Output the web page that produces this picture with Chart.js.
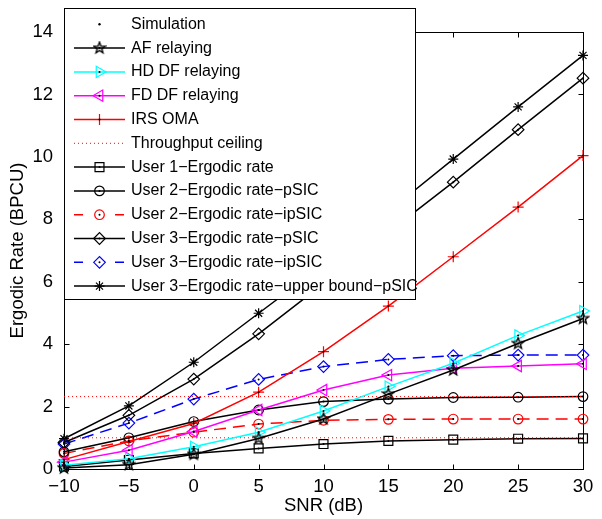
<!DOCTYPE html>
<html>
<head>
<meta charset="utf-8">
<style>
  html, body { margin: 0; padding: 0; background: #fff; }
  #wrap { width: 602px; height: 519px; }
</style>
<script src="https://cdn.jsdelivr.net/npm/chart.js@4/dist/chart.umd.min.js"></script>
</head>
<body>
<div id="wrap"><canvas id="c" width="602" height="519"></canvas></div>
<script>
// SNR grid (dB)
const snr = [-10, -5, 0, 5, 10, 15, 20, 25, 30];

// Ergodic rates (BPCU)
const afRelaying   = [0.03, 0.14, 0.47, 0.98, 1.60, 2.40, 3.17, 4.02, 4.82];
const hdDfRelaying = [0.12, 0.33, 0.71, 1.18, 1.86, 2.64, 3.39, 4.28, 5.06];
const fdDfRelaying = [0.22, 0.60, 1.20, 1.89, 2.53, 3.01, 3.23, 3.30, 3.37];
const irsOma       = [0.30, 0.88, 1.46, 2.46, 3.76, 5.22, 6.80, 8.39, 10.04];
const user1Rate    = [0.08, 0.29, 0.50, 0.66, 0.80, 0.90, 0.94, 0.97, 0.98];
const user2pSIC    = [0.55, 1.00, 1.52, 1.89, 2.16, 2.24, 2.29, 2.30, 2.32];
const user2ipSIC   = [0.50, 0.90, 1.18, 1.44, 1.56, 1.59, 1.60, 1.60, 1.60];
const user3pSIC    = [0.85, 1.72, 2.88, 4.33, 5.94, 7.58, 9.19, 10.87, 12.52];
const user3ipSIC   = [0.80, 1.47, 2.24, 2.87, 3.28, 3.51, 3.63, 3.65, 3.65];
const user3Upper   = [0.97, 2.02, 3.42, 4.99, 6.55, 8.25, 9.93, 11.60, 13.25];

// High-SNR throughput ceilings
const ceilings = [1.0, 2.32];

// Axis ticks
const xTicks = [-10, -5, 0, 5, 10, 15, 20, 25, 30];
const yTicks = [0, 2, 4, 6, 8, 10, 12, 14];

const FONT = "'Liberation Sans', Arial, Helvetica, sans-serif";
Chart.defaults.font.family = FONT;
Chart.defaults.color = '#000';

// five-pointed star marker
function makePentagram(size, r, lw) {
  const c = document.createElement('canvas');
  c.width = size; c.height = size;
  const g = c.getContext('2d');
  const cx = size / 2, cy = size / 2;
  g.beginPath();
  for (let i = 0; i < 10; i++) {
    const a = -Math.PI / 2 + i * Math.PI / 5;
    const rr = (i % 2 === 0) ? r : r * 0.42;
    const px = cx + rr * Math.cos(a), py = cy + rr * Math.sin(a);
    if (i === 0) g.moveTo(px, py); else g.lineTo(px, py);
  }
  g.closePath();
  g.lineWidth = lw;
  g.strokeStyle = '#000';
  g.fillStyle = 'rgba(0,0,0,0.2)';
  g.fill();
  g.stroke();
  return c;
}
const pentagram = makePentagram(14, 6, 1.3);

const pts = arr => arr.map((v, i) => ({ x: snr[i], y: v }));

function series(label, data, color, style, radius, extra) {
  return Object.assign({
    label: label,
    data: pts(data),
    borderColor: color,
    backgroundColor: color,
    borderWidth: 1.5,
    pointStyle: style,
    pointRadius: radius,
    pointHoverRadius: radius,
    pointBorderColor: color,
    pointBackgroundColor: 'rgba(0,0,0,0)',
    pointBorderWidth: 1.2,
    tension: 0,
    fill: false,
    clip: false,
    simDots: true
  }, extra || {});
}

function ceilingLine(value, first) {
  return {
    label: 'Throughput ceiling',
    data: [{ x: snr[0], y: value }, { x: snr[snr.length - 1], y: value }],
    borderColor: '#ff0000',
    borderWidth: 1,
    borderDash: [1, 3],
    pointRadius: 0,
    pointHoverRadius: 0,
    fill: false,
    clip: false,
    legendSkip: !first
  };
}

const datasets = [
  series('AF relaying', afRelaying, '#000000', pentagram, 6),
  series('HD DF relaying', hdDfRelaying, '#00ffff', 'triangle', 6.5, { pointRotation: 90 }),
  series('FD DF relaying', fdDfRelaying, '#ff00ff', 'triangle', 6.5, { pointRotation: -90 }),
  series('IRS OMA', irsOma, '#ff0000', 'cross', 5.5),
  ceilingLine(ceilings[0], true),
  ceilingLine(ceilings[1], false),
  series('User 1\u2212Ergodic rate', user1Rate, '#000000', 'rect', 6.3),
  series('User 2\u2212Ergodic rate\u2212pSIC', user2pSIC, '#000000', 'circle', 4.8),
  series('User 2\u2212Ergodic rate\u2212ipSIC', user2ipSIC, '#ff0000', 'circle', 4.8, { borderDash: [12, 7] }),
  series('User 3\u2212Ergodic rate\u2212pSIC', user3pSIC, '#000000', 'rectRot', 5.8),
  series('User 3\u2212Ergodic rate\u2212ipSIC', user3ipSIC, '#0000ff', 'rectRot', 5.8, { borderDash: [12, 7] }),
  series('User 3\u2212Ergodic rate\u2212upper bound\u2212pSIC', user3Upper, '#000000', 'star', 5)
];

// boxed axes with inward ticks on all four sides
const framePlugin = {
  id: 'frame',
  beforeDatasetsDraw(chart) {
    const { ctx, chartArea: a, scales } = chart;
    const L = Math.round(a.left) + 0.5, R = Math.round(a.right) + 0.5;
    const T = Math.round(a.top) + 0.5, B = Math.round(a.bottom) + 0.5;
    ctx.save();
    ctx.strokeStyle = '#000';
    ctx.lineWidth = 1;
    ctx.setLineDash([]);
    ctx.strokeRect(L, T, R - L, B - T);
    const tl = 5;
    ctx.beginPath();
    xTicks.forEach(v => {
      const x = Math.round(scales.x.getPixelForValue(v)) + 0.5;
      ctx.moveTo(x, B); ctx.lineTo(x, B - tl);
      ctx.moveTo(x, T); ctx.lineTo(x, T + tl);
    });
    yTicks.forEach(v => {
      const y = Math.round(scales.y.getPixelForValue(v)) + 0.5;
      ctx.moveTo(L, y); ctx.lineTo(L + tl, y);
      ctx.moveTo(R, y); ctx.lineTo(R - tl, y);
    });
    ctx.stroke();
    ctx.restore();
  }
};

// small dots marking the simulated points
const simDotsPlugin = {
  id: 'simDots',
  afterDatasetsDraw(chart) {
    const ctx = chart.ctx;
    ctx.save();
    ctx.fillStyle = '#000';
    chart.data.datasets.forEach((ds, i) => {
      if (!ds.simDots) return;
      chart.getDatasetMeta(i).data.forEach(p => {
        ctx.beginPath();
        ctx.arc(p.x, p.y, 1, 0, Math.PI * 2);
        ctx.fill();
      });
    });
    ctx.restore();
  }
};

// boxed legend over the upper-left of the plot
const legendPlugin = {
  id: 'boxLegend',
  afterDraw(chart) {
    const ctx = chart.ctx;
    const box = { x: 64, y: 8, w: 352, h: 292 };
    const rowY0 = 24.3, rowH = 23.8;
    const lineX0 = 74, lineX1 = 125, markX = 99.5, textX = 131;
    ctx.save();
    ctx.fillStyle = '#fff';
    ctx.fillRect(box.x, box.y, box.w, box.h);
    ctx.strokeStyle = '#000';
    ctx.lineWidth = 1;
    ctx.strokeRect(box.x + 0.5, box.y + 0.5, box.w - 1, box.h - 1);

    const rows = [{ label: 'Simulation', sim: true }];
    chart.data.datasets.forEach(ds => { if (!ds.legendSkip) rows.push(ds); });

    ctx.font = '16px ' + FONT;
    ctx.textBaseline = 'middle';
    ctx.textAlign = 'left';
    rows.forEach((ds, i) => {
      const y = rowY0 + i * rowH;
      if (ds.sim) {
        ctx.fillStyle = '#000';
        ctx.beginPath();
        ctx.arc(markX, y, 1.2, 0, Math.PI * 2);
        ctx.fill();
      } else {
        ctx.strokeStyle = ds.borderColor;
        ctx.lineWidth = ds.borderWidth;
        ctx.setLineDash([]);
        ctx.beginPath();
        if (ds.borderDash && ds.borderDash.length > 1 && ds.borderDash[0] > 2) {
          ctx.moveTo(lineX0, y); ctx.lineTo(lineX0 + 9, y);
          ctx.moveTo(lineX1 - 10, y); ctx.lineTo(lineX1 - 1, y);
        } else if (ds.borderDash && ds.borderDash.length > 1) {
          ctx.setLineDash(ds.borderDash);
          ctx.moveTo(lineX0, y); ctx.lineTo(lineX1, y);
        } else {
          ctx.moveTo(lineX0, y); ctx.lineTo(lineX1, y);
        }
        ctx.stroke();
        ctx.setLineDash([]);
        if (ds.pointRadius > 0) {
          ctx.fillStyle = 'rgba(0,0,0,0)';
          ctx.strokeStyle = ds.pointBorderColor;
          ctx.lineWidth = ds.pointBorderWidth;
          Chart.helpers.drawPoint(ctx, {
            pointStyle: ds.pointStyle,
            rotation: ds.pointRotation || 0,
            radius: ds.pointRadius,
            borderWidth: ds.pointBorderWidth
          }, markX, y);
          ctx.fillStyle = '#000';
          ctx.beginPath();
          ctx.arc(markX, y, 1, 0, Math.PI * 2);
          ctx.fill();
        }
      }
      ctx.fillStyle = '#000';
      ctx.fillText(ds.label, textX, y);
    });
    ctx.restore();
  }
};

new Chart(document.getElementById('c'), {
  type: 'line',
  data: { datasets: datasets },
  options: {
    responsive: false,
    animation: false,
    devicePixelRatio: 1,
    events: [],
    layout: { padding: { left: 0, right: 19, top: 32, bottom: 0 } },
    plugins: { legend: { display: false }, tooltip: { enabled: false } },
    scales: {
      x: {
        type: 'linear',
        min: -10, max: 30,
        afterBuildTicks: s => { s.ticks = xTicks.map(v => ({ value: v })); },
        afterFit: s => { s.height = 50; },
        grid: { display: false, drawTicks: false },
        border: { display: false },
        ticks: {
          padding: 7,
          font: { size: 18.5 },
          callback: v => String(v).replace('-', '\u2212')
        },
        title: { display: true, text: 'SNR (dB)', font: { size: 18.5 }, padding: { top: 0, bottom: 2 } }
      },
      y: {
        type: 'linear',
        min: 0, max: 14,
        afterBuildTicks: s => { s.ticks = yTicks.map(v => ({ value: v })); },
        afterFit: s => { s.width = 64; },
        grid: { display: false, drawTicks: false },
        border: { display: false },
        ticks: { padding: 11, font: { size: 18.5 } },
        title: { display: true, text: 'Ergodic Rate (BPCU)', font: { size: 18.5 }, padding: { top: 7, bottom: 0 } }
      }
    }
  },
  plugins: [framePlugin, simDotsPlugin, legendPlugin]
});
</script>
</body>
</html>
